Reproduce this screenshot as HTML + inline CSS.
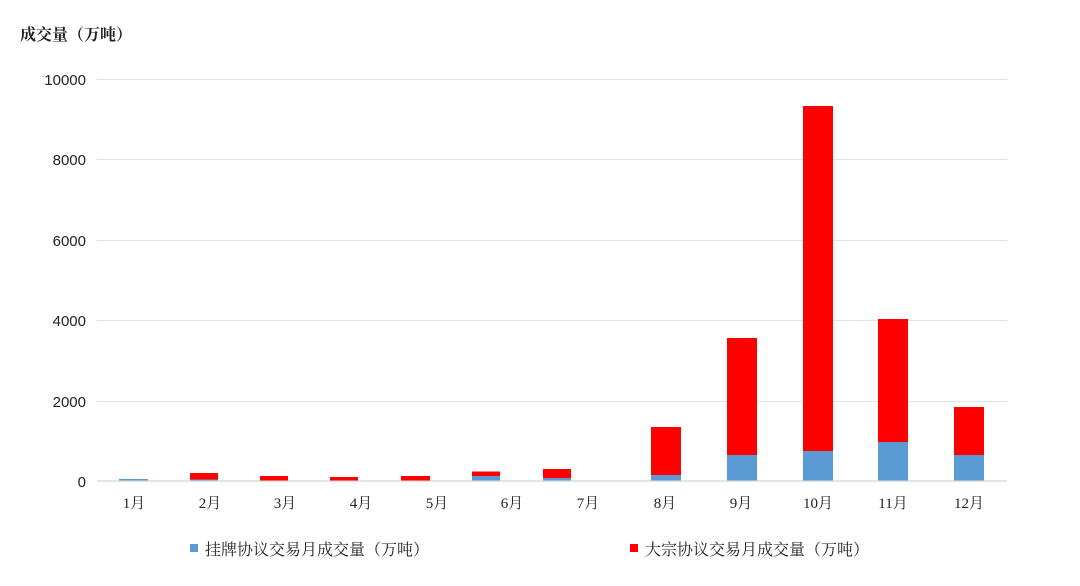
<!DOCTYPE html>
<html><head><meta charset="utf-8"><style>
html,body{margin:0;padding:0;background:#fff;}
svg{display:block;}
.s{font-family:"Liberation Serif","Noto Serif CJK SC",serif;}
.a{font-family:"Liberation Sans",sans-serif;}
</style></head><body>
<svg width="1080" height="586" xmlns="http://www.w3.org/2000/svg">
<text x="20" y="40" class="s" font-size="16" font-weight="bold" fill="#222">成交量（万吨）</text>
<g stroke="#e3e3e3" stroke-width="1">
<line x1="97" x2="1007" y1="79.5" y2="79.5"/>
<line x1="97" x2="1007" y1="159.5" y2="159.5"/>
<line x1="97" x2="1007" y1="240.5" y2="240.5"/>
<line x1="97" x2="1007" y1="320.5" y2="320.5"/>
<line x1="97" x2="1007" y1="401.5" y2="401.5"/>
</g>
<line x1="97" x2="1007" y1="481" y2="481" stroke="#dcdcdc" stroke-width="1.5"/>
<g class="a" font-size="15" fill="#222" text-anchor="end">
<text x="86" y="85">10000</text>
<text x="86" y="165">8000</text>
<text x="86" y="246">6000</text>
<text x="86" y="326">4000</text>
<text x="86" y="407">2000</text>
<text x="86" y="487">0</text>
</g>
<g>
<rect x="119" y="479" width="29" height="1.5" fill="#5b9bd5"/>
<rect x="190" y="473" width="28" height="6.5" fill="#f00"/><rect x="190" y="479.5" width="28" height="1" fill="#5b9bd5"/>
<rect x="260" y="476" width="28" height="4.5" fill="#f00"/>
<rect x="330" y="477" width="28" height="3.5" fill="#f00"/>
<rect x="401" y="476" width="29" height="4.5" fill="#f00"/>
<rect x="472" y="471.5" width="28" height="4.5" fill="#f00"/><rect x="472" y="476" width="28" height="4.5" fill="#5b9bd5"/>
<rect x="543" y="469" width="28" height="9" fill="#f00"/><rect x="543" y="478" width="28" height="2.5" fill="#5b9bd5"/>
<rect x="651" y="427" width="30" height="48" fill="#f00"/><rect x="651" y="475" width="30" height="5.5" fill="#5b9bd5"/>
<rect x="727" y="338" width="30" height="117" fill="#f00"/><rect x="727" y="455" width="30" height="25.5" fill="#5b9bd5"/>
<rect x="803" y="106" width="30" height="345" fill="#f00"/><rect x="803" y="451" width="30" height="29.5" fill="#5b9bd5"/>
<rect x="878" y="319" width="30" height="123" fill="#f00"/><rect x="878" y="442" width="30" height="38.5" fill="#5b9bd5"/>
<rect x="954" y="407" width="30" height="48" fill="#f00"/><rect x="954" y="455" width="30" height="25.5" fill="#5b9bd5"/>
</g>
<g class="s" font-size="15" fill="#222" text-anchor="middle">
<text x="134" y="508">1月</text>
<text x="210" y="508">2月</text>
<text x="285" y="508">3月</text>
<text x="361" y="508">4月</text>
<text x="437" y="508">5月</text>
<text x="512" y="508">6月</text>
<text x="588" y="508">7月</text>
<text x="665" y="508">8月</text>
<text x="741" y="508">9月</text>
<text x="818" y="508">10月</text>
<text x="893" y="508">11月</text>
<text x="969" y="508">12月</text>
</g>
<rect x="190" y="544" width="8" height="8" fill="#5b9bd5"/>
<text x="205" y="555" class="s" font-size="16" fill="#222">挂牌协议交易月成交量（万吨）</text>
<rect x="630" y="544" width="8" height="8" fill="#f00"/>
<text x="645" y="555" class="s" font-size="16" fill="#222">大宗协议交易月成交量（万吨）</text>
</svg>
</body></html>
